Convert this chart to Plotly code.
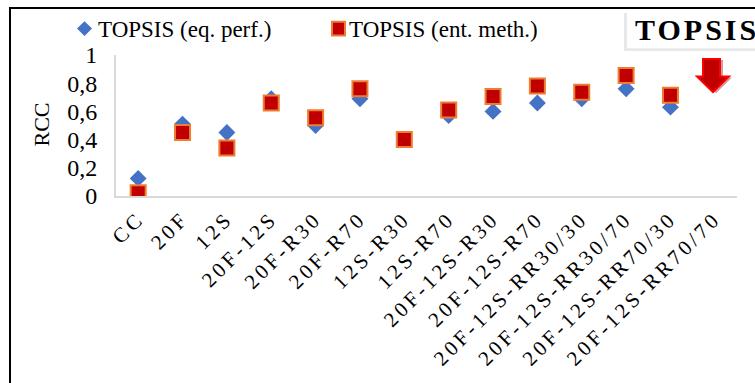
import plotly.graph_objects as go

categories = ["CC", "20F", "12S", "20F-12S", "20F-R30", "20F-R70", "12S-R30",
              "12S-R70", "20F-12S-R30", "20F-12S-R70", "20F-12S-RR30/30",
              "20F-12S-RR30/70", "20F-12S-RR70/30", "20F-12S-RR70/70"]
eq_perf = [0.125, 0.51, 0.45, 0.69, 0.50, 0.69, 0.40, 0.57, 0.60, 0.66, 0.69, 0.76, 0.63, None]
ent_meth = [0.023, 0.45, 0.34, 0.66, 0.555, 0.76, 0.40, 0.61, 0.705, 0.78, 0.735, 0.855, 0.715, None]
y_ticks = [0, 0.2, 0.4, 0.6, 0.8, 1]
y_ticktext = ["0", "0,2", "0,4", "0,6", "0,8", "1"]

W, H = 755, 383
L, R, T, B = 116, 18, 55, 184
PW, PH = W - L - R, H - T - B
FONT = "Liberation Serif"


def px(x):
    return (x - L) / PW


def py(y):
    return (H - B - y) / PH


def spaced(s, sp=3):
    return f"<span style='letter-spacing:{sp}px'>{s}</span>"


fig = go.Figure()
fig.add_trace(go.Scatter(
    x=categories, y=eq_perf, mode="markers", name="TOPSIS (eq. perf.)",
    marker=dict(symbol="diamond", size=13, color="#4472C4", line=dict(width=0)),
))
fig.add_trace(go.Scatter(
    x=categories, y=ent_meth, mode="markers", name="TOPSIS (ent. meth.)",
    marker=dict(symbol="square", size=15, color="#C00000",
                line=dict(width=2, color="#ED7D31")),
))

shapes = []
# outer chart frame
shapes.append(dict(type="rect", xref="paper", yref="paper",
                   x0=px(10), x1=px(800), y0=py(420), y1=py(7),
                   line=dict(color="black", width=2), layer="below"))
# legend symbols
shapes.append(dict(type="path", xref="paper", yref="paper",
                   path=f"M {px(77)} {py(28)} L {px(84.5)} {py(20.5)} L {px(92)} {py(28)} L {px(84.5)} {py(35.5)} Z",
                   fillcolor="#4472C4", line=dict(width=0)))
shapes.append(dict(type="rect", xref="paper", yref="paper",
                   x0=px(332), x1=px(345), y0=py(35), y1=py(21),
                   fillcolor="#C00000", line=dict(color="#ED7D31", width=2)))
# title box with soft shadow
shapes.append(dict(type="rect", xref="paper", yref="paper",
                   x0=px(624), x1=px(770), y0=py(51), y1=py(12),
                   fillcolor="#E8E8E8", line=dict(width=0)))
shapes.append(dict(type="rect", xref="paper", yref="paper",
                   x0=px(627), x1=px(770), y0=py(48), y1=py(9),
                   fillcolor="white", line=dict(width=0)))


# red down arrow (shadow then arrow)
def arrow(dx, dy):
    pts = [(703, 59), (720, 59), (720, 77), (729, 77), (713, 93), (697, 77), (703, 77)]
    return "M " + " L ".join(f"{px(x + dx)} {py(y + dy)}" for x, y in pts) + " Z"


shapes.append(dict(type="path", xref="paper", yref="paper", path=arrow(3, 1),
                   fillcolor="#D0A0A0", line=dict(width=0)))
shapes.append(dict(type="path", xref="paper", yref="paper", path=arrow(0, 0),
                   fillcolor="#C00000", line=dict(color="#FF0000", width=2)))

annotations = [
    dict(x=px(96), y=py(28.5), xref="paper", yref="paper", xanchor="left", yanchor="middle",
         text="TOPSIS (eq. perf.)", showarrow=False, font=dict(family=FONT, size=23, color="black")),
    dict(x=px(347), y=py(28.5), xref="paper", yref="paper", xanchor="left", yanchor="middle",
         text="TOPSIS (ent. meth.)", showarrow=False, font=dict(family=FONT, size=23, color="black")),
    dict(x=px(633), y=py(29), xref="paper", yref="paper", xanchor="left", yanchor="middle",
         text=spaced("<b>TOPSIS</b>", 3), showarrow=False,
         font=dict(family=FONT, size=30, color="black")),
    dict(x=px(42), y=py(126), xref="paper", yref="paper", xanchor="center", yanchor="middle",
         text="RCC", textangle=-90, showarrow=False, font=dict(family=FONT, size=22, color="black")),
]

fig.update_layout(
    width=W, height=H,
    margin=dict(l=L, r=R, t=T, b=B),
    paper_bgcolor="white", plot_bgcolor="white",
    showlegend=False,
    shapes=shapes, annotations=annotations,
    font=dict(family=FONT, size=22, color="black"),
)
fig.update_xaxes(
    type="category", categoryorder="array", categoryarray=categories,
    range=[-0.5, len(categories) - 0.5],
    tickmode="array", tickvals=categories, ticktext=[spaced(c, 3.5) for c in categories],
    tickangle=-45, showgrid=False, zeroline=False,
    showline=True, linecolor="#D9D9D9", linewidth=2, ticks="",
    tickfont=dict(family=FONT, size=21, color="black"),
)
fig.update_yaxes(
    range=[0, 1], tickvals=y_ticks, ticktext=y_ticktext,
    showgrid=False, zeroline=False, showline=True, linecolor="#D9D9D9", linewidth=2,
    ticks="", ticklabelstandoff=12,
    tickfont=dict(family=FONT, size=24, color="black"),
)

fig.write_html("out.html")
